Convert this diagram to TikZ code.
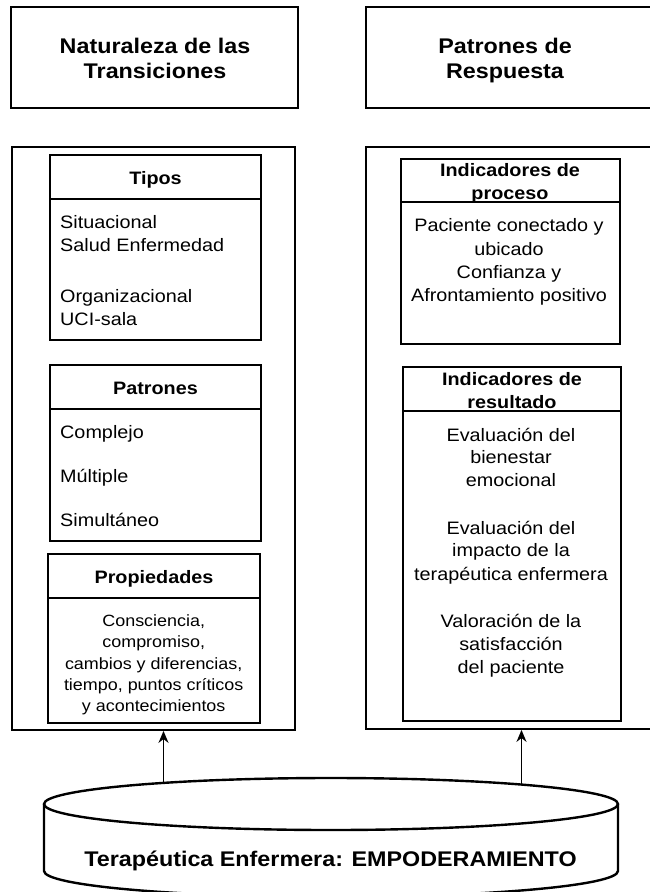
\documentclass[tikz,border=0pt]{standalone}
\usepackage{fontspec}
\setmainfont{Liberation Sans}[FakeStretch=1.1]
\usetikzlibrary{arrows.meta}
\begin{document}
\begin{tikzpicture}[x=1pt,y=-1pt,
  box/.style={draw, line width=1.8pt, inner sep=0pt, rectangle, fill=white},
  sepline/.style={line width=1.8pt},
  ln/.style={inner sep=0pt, anchor=base, font=\fontsize{18}{22}\selectfont},
  lnl/.style={ln, anchor=base west},
  hd/.style={ln, font=\fontsize{18}{22}\selectfont\bfseries},
  ttl/.style={ln, font=\fontsize{21.2}{25}\selectfont\bfseries},
  sm/.style={ln, font=\fontsize{16.3}{20}\selectfont},
  cyl/.style={line width=2.4pt, fill=white},
  arr/.style={line width=1.6pt, -{Stealth[length=12pt,width=10pt]}}
]
\useasboundingbox (0,0) rectangle (650,892);
\clip (0,0) rectangle (650,892);
\fill[white] (0,0) rectangle (650,892);

% top title boxes
\node[box, minimum width=287pt, minimum height=101pt] (TL) at (154.5,57.5) {};
\node[box, minimum width=287pt, minimum height=101pt] (TR) at (509.5,57.5) {};
\node[ttl] (tl1) at (155,53.3) {Naturaleza de las};
\node[ttl] (tl2) at (155,78.3) {Transiciones};
\node[ttl] (tr1) at (505,53.3) {Patrones de};
\node[ttl] (tr2) at (505,78.3) {Respuesta};

% outer containers
\node[box, minimum width=283pt, minimum height=583pt] (OL) at (153.5,438.5) {};
\node[box, minimum width=289pt, minimum height=582pt] (OR) at (510.5,438) {};

% Tipos
\node[box, minimum width=211pt, minimum height=185pt] (tipos) at (155.5,247.5) {};
\draw[sepline] (tipos.west |- 0,199) -- (tipos.east |- 0,199);
\node[hd] (tiposh) at (155.5,184.5) {Tipos};
\node[lnl] (ti1) at (60,228.3) {Situacional};
\node[lnl] (ti2) at (60,251) {Salud Enfermedad};
\node[lnl] (ti3) at (60,302.7) {Organizacional};
\node[lnl] (ti4) at (60,325.3) {UCI-sala};

% Patrones
\node[box, minimum width=211pt, minimum height=176pt] (patr) at (155.5,453) {};
\draw[sepline] (patr.west |- 0,409) -- (patr.east |- 0,409);
\node[hd] (patrh) at (155.5,394.5) {Patrones};
\node[lnl] (pa1) at (60,438.3) {Complejo};
\node[lnl] (pa2) at (60,482.7) {Múltiple};
\node[lnl] (pa3) at (60,526) {Simultáneo};

% Propiedades
\node[box, minimum width=212pt, minimum height=169pt] (prop) at (154,638.5) {};
\draw[sepline] (prop.west |- 0,598) -- (prop.east |- 0,598);
\node[hd] (proph) at (154,583) {Propiedades};
\node[sm] (pr1) at (153.7,626.3) {Consciencia,};
\node[sm] (pr2) at (153.7,647.7) {compromiso,};
\node[sm] (pr3) at (153.7,669) {cambios y diferencias,};
\node[sm] (pr4) at (153.7,690.3) {tiempo, puntos críticos};
\node[sm] (pr5) at (153.7,711.7) {y acontecimientos};

% Indicadores de proceso
\node[box, minimum width=219pt, minimum height=185pt] (proc) at (510.5,251.5) {};
\draw[sepline] (proc.west |- 0,202) -- (proc.east |- 0,202);
\node[hd] (proch1) at (510,176) {Indicadores de};
\node[hd] (proch2) at (510,199.3) {proceso};
\node[ln] (pc1) at (509,231.7) {Paciente conectado y};
\node[ln] (pc2) at (509,255) {ubicado};
\node[ln] (pc3) at (509,278.3) {Confianza y};
\node[ln] (pc4) at (509,301.7) {Afrontamiento positivo};

% Indicadores de resultado
\node[box, minimum width=218pt, minimum height=354pt] (res) at (512,544) {};
\draw[sepline] (res.west |- 0,411) -- (res.east |- 0,411);
\node[hd] (resh1) at (512,385) {Indicadores de};
\node[hd] (resh2) at (512,408.3) {resultado};
\node[ln] (rs1) at (511,441) {Evaluación del};
\node[ln] (rs2) at (511,463.3) {bienestar};
\node[ln] (rs3) at (511,486.7) {emocional};
\node[ln] (rs4) at (511,534) {Evaluación del};
\node[ln] (rs5) at (511,556.7) {impacto de la};
\node[ln] (rs6) at (511,580) {terapéutica enfermera};
\node[ln] (rs7) at (511,627.3) {Valoración de la};
\node[ln] (rs8) at (511,650) {satisfacción};
\node[ln] (rs9) at (511,673.3) {del paciente};

% cylinder
\draw[cyl] (44,804) -- (44,871) arc[start angle=180, end angle=0, x radius=287, y radius=26] -- (618,804);
\draw[cyl] (331,804) ellipse [x radius=287, y radius=26];
\node[ttl] (cylt) at (330.5,866) {Terapéutica Enfermera: EMPODERAMIENTO};
\coordinate (cA) at (163.5,783);
\coordinate (cB) at (521.5,784.6);

% connectors
\draw[arr] (cA) -- (cA |- OL.south);
\draw[arr] (cB) -- (cB |- OR.south);
\end{tikzpicture}
\end{document}
